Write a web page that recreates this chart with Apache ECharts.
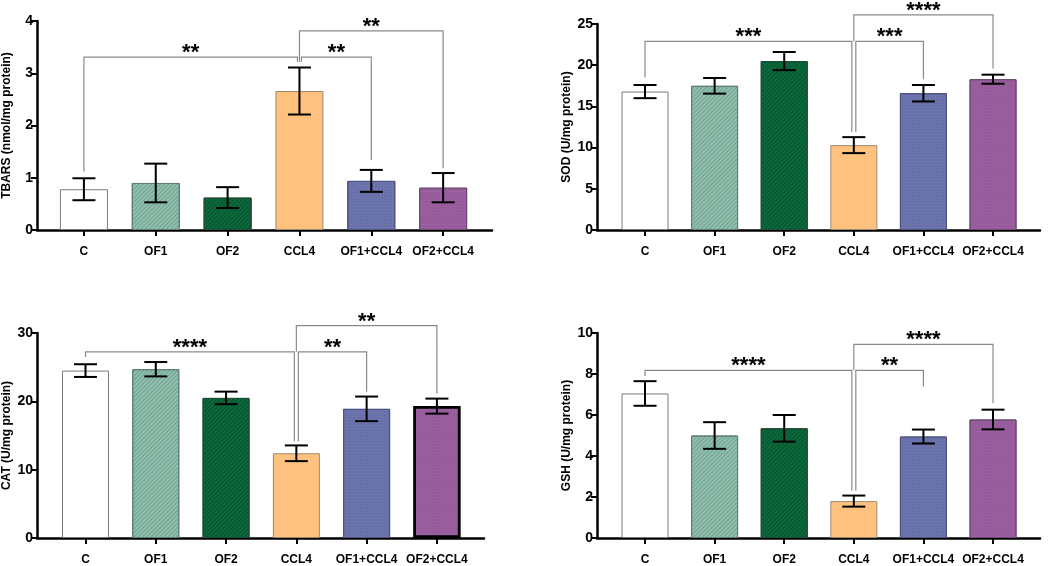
<!DOCTYPE html>
<html>
<head>
<meta charset="utf-8">
<script src="https://cdn.jsdelivr.net/npm/echarts@6/dist/echarts.min.js"></script>
<style>
  html, body { margin: 0; padding: 0; background: #fff; }
  #chart { width: 1052px; height: 566px; }
</style>
</head>
<body>
<div id="chart"></div>
<script>
var categories = ['C', 'OF1', 'OF2', 'CCL4', 'OF1+CCL4', 'OF2+CCL4'];

var tbarsMean = [0.78, 0.90, 0.62, 2.66, 0.94, 0.81];
var tbarsErr = [0.21, 0.37, 0.20, 0.45, 0.21, 0.28];
var sodMean = [16.8, 17.5, 20.5, 10.3, 16.6, 18.3];
var sodErr = [0.80, 0.95, 1.10, 0.97, 1.00, 0.55];
var catMean = [24.5, 24.7, 20.5, 12.4, 18.9, 19.3];
var catErr = [0.93, 1.05, 0.92, 1.15, 1.80, 1.10];
var gshMean = [7.05, 5.00, 5.35, 1.80, 4.95, 5.78];
var gshErr = [0.60, 0.65, 0.65, 0.27, 0.34, 0.48];

// [from, to, bracket y, left leg end, right leg end, stars]
var tbarsSig = [[0, 3, 3.31, 1.12, 3.22, '**'], [3, 4, 3.31, 3.22, 1.34, '**'], [3, 5, 3.81, 3.22, 1.18, '**']];
var sodSig = [[0, 3, 22.9, 18.5, 11.9, '***'], [3, 4, 22.9, 11.9, 18.3, '***'], [3, 5, 26.1, 22.9, 19.6, '****']];
var catSig = [[0, 3, 27.24, 26.5, 14.15, '****'], [3, 4, 27.24, 14.15, 21.4, '**'], [3, 5, 31.07, 27.24, 21.1, '**']];
var gshSig = [[0, 3, 8.18, 7.9, 2.3, '****'], [3, 4, 8.18, 2.3, 7.39, '**'], [3, 5, 9.45, 8.18, 6.58, '****']];

var fills = ['#ffffff', '#8fc0ad', '#0b6b3c', '#fec27e', '#6d75ae', '#9b5f9f'];
var borders = ['#7a7a7a', '#5f7f73', '#1f4a33', '#9c8a70', '#4c5180', '#6d4a70'];
var decals = [
  null,
  { symbol: 'rect', color: 'rgba(40,80,70,0.28)', dashArrayX: [1, 0], dashArrayY: [1, 2], rotation: -Math.PI / 4 },
  { symbol: 'rect', color: 'rgba(0,30,15,0.35)', dashArrayX: [1, 0], dashArrayY: [1, 2], rotation: -Math.PI / 4 },
  null,
  { symbol: 'rect', color: 'rgba(40,45,90,0.25)', symbolSize: 0.6, dashArrayX: [2, 1], dashArrayY: [2, 1] },
  { symbol: 'rect', color: 'rgba(80,40,80,0.25)', symbolSize: 0.6, dashArrayX: [2, 1], dashArrayY: [2, 1] }
];

var FONT = 'Liberation Sans';

var panels = [
  { name: 'TBARS (nmol/mg protein)', mean: tbarsMean, err: tbarsErr, sig: tbarsSig, max: 4, step: 1,
    grid: { left: 36, right: 560, top: 21, bottom: 336 }, xmin: -0.653, xmax: 5.68, barW: 48 },
  { name: 'SOD (U/mg protein)', mean: sodMean, err: sodErr, sig: sodSig, max: 25, step: 5,
    grid: { left: 597, right: 12, top: 24, bottom: 336 }, xmin: -0.69, xmax: 5.675, barW: 47 },
  { name: 'CAT (U/mg protein)', mean: catMean, err: catErr, sig: catSig, max: 30, step: 10,
    grid: { left: 34, right: 568, top: 333, bottom: 27 }, xmin: -0.69, xmax: 5.67, barW: 47, thickLast: true },
  { name: 'GSH (U/mg protein)', mean: gshMean, err: gshErr, sig: gshSig, max: 10, step: 2,
    grid: { left: 597, right: 12, top: 333, bottom: 27 }, xmin: -0.69, xmax: 5.675, barW: 47 }
];

var option = { animation: false, backgroundColor: '#fff', grid: [], xAxis: [], yAxis: [], series: [] };

panels.forEach(function (p, k) {
  option.grid.push(p.grid);
  option.xAxis.push({
    type: 'value', gridIndex: k, min: p.xmin, max: p.xmax,
    splitLine: { show: false },
    axisLine: { show: true, onZero: false, lineStyle: { color: '#000', width: 2.5 } },
    axisTick: { show: true, customValues: [0, 1, 2, 3, 4, 5], length: 6, lineStyle: { color: '#000', width: 2 } },
    axisLabel: {
      customValues: [0, 1, 2, 3, 4, 5], margin: 16,
      fontFamily: FONT, fontWeight: 'bold', fontSize: 12, color: '#000',
      formatter: function (v) { return categories[Math.round(v)]; }
    }
  });
  option.yAxis.push({
    type: 'value', gridIndex: k, min: 0, max: p.max, interval: p.step,
    name: p.name, nameLocation: 'middle', nameGap: 24,
    nameTextStyle: { fontFamily: FONT, fontWeight: 'bold', fontSize: 12, color: '#000' },
    splitLine: { show: false },
    axisLine: { show: true, onZero: false, lineStyle: { color: '#000', width: 2.5 } },
    axisTick: { show: true, length: 6, lineStyle: { color: '#000', width: 2 } },
    axisLabel: { fontFamily: FONT, fontWeight: 'bold', fontSize: 14, color: '#000', margin: 4 }
  });

  option.series.push({
    type: 'bar', xAxisIndex: k, yAxisIndex: k, barWidth: p.barW, z: 2,
    data: p.mean.map(function (v, i) {
      var thick = p.thickLast && i === 5;
      return {
        value: [i, v],
        itemStyle: {
          color: fills[i],
          borderColor: thick ? '#000' : borders[i],
          borderWidth: thick ? 2.5 : 1,
          decal: decals[i] || undefined
        }
      };
    })
  });

  option.series.push({
    type: 'custom', xAxisIndex: k, yAxisIndex: k, z: 5,
    data: p.mean.map(function (v, i) { return [i, v - p.err[i], v + p.err[i]]; }),
    renderItem: function (params, api) {
      var lo = api.coord([api.value(0), api.value(1)]);
      var hi = api.coord([api.value(0), api.value(2)]);
      var w = 11.5;
      var st = { stroke: '#000', lineWidth: 2 };
      return {
        type: 'group',
        children: [
          { type: 'line', shape: { x1: lo[0], y1: lo[1], x2: hi[0], y2: hi[1] }, style: st },
          { type: 'line', shape: { x1: hi[0] - w, y1: hi[1], x2: hi[0] + w, y2: hi[1] }, style: st },
          { type: 'line', shape: { x1: lo[0] - w, y1: lo[1], x2: lo[0] + w, y2: lo[1] }, style: st }
        ]
      };
    }
  });

  option.series.push({
    type: 'custom', xAxisIndex: k, yAxisIndex: k, z: 6, clip: false,
    data: p.sig.map(function (s) { return [s[0], s[1], s[2], s[3], s[4]]; }),
    renderItem: function (params, api) {
      var s = p.sig[params.dataIndex];
      var a = api.coord([s[0], s[2]]);
      var b = api.coord([s[1], s[2]]);
      var ax = a[0] + (s[0] === 3 ? (s[1] === 4 ? 2 : 0) : 0);
      var bx = b[0] - (s[1] === 3 ? 2 : 0);
      var aEnd = api.coord([s[0], s[3]])[1];
      var bEnd = api.coord([s[1], s[4]])[1];
      return {
        type: 'group',
        children: [
          { type: 'polyline', shape: { points: [[ax, aEnd], [ax, a[1]], [bx, b[1]], [bx, bEnd]] },
            style: { stroke: '#8a8a8a', lineWidth: 1.2, fill: null } },
          { type: 'text', x: (ax + bx) / 2, y: a[1] + 7,
            style: { text: s[5], fill: '#000', font: 'bold 22px "' + FONT + '"',
                     align: 'center', verticalAlign: 'bottom' } }
        ]
      };
    }
  });
});

var chart = echarts.init(document.getElementById('chart'));
chart.setOption(option);
</script>
</body>
</html>
